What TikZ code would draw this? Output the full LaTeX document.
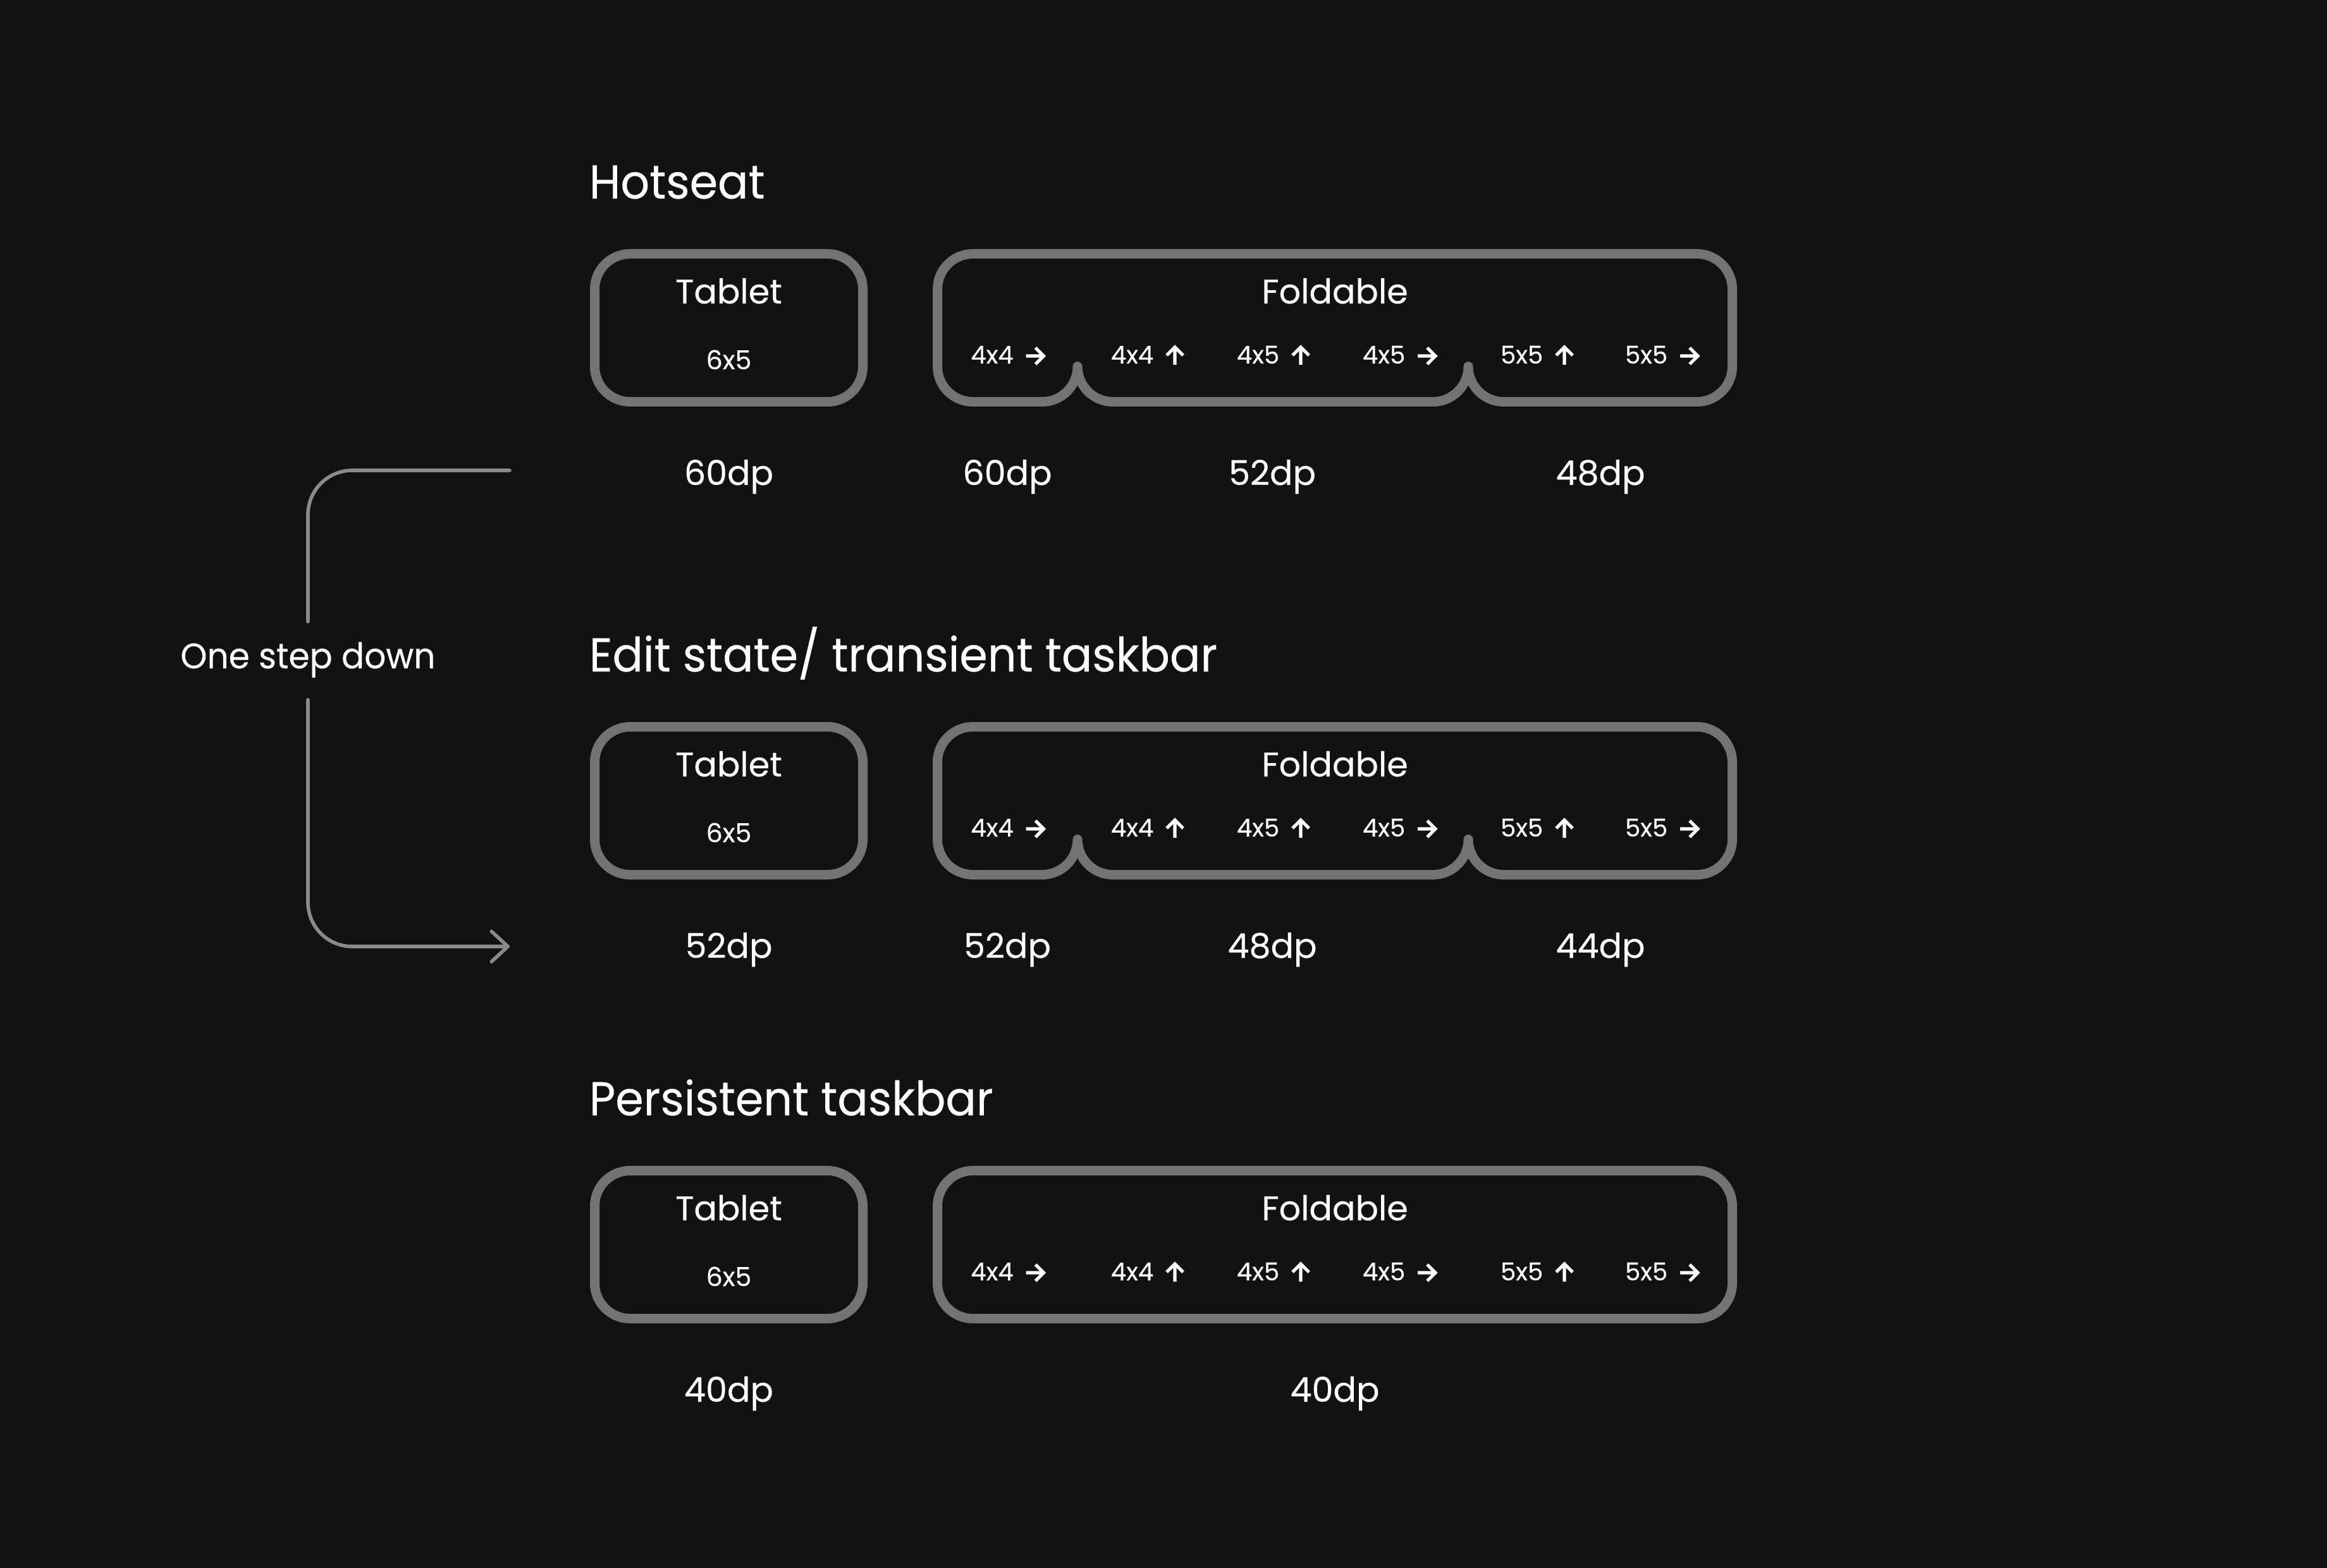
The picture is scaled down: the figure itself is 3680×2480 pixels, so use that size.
\documentclass[tikz,border=0pt]{standalone}
\usepackage{fontspec}
\setmainfont{Poppins}[FakeBold=0.3]
\newfontfamily\titlefont{Poppins}[FakeStretch=0.955, FakeBold=0.3]
\usetikzlibrary{arrows.meta}
\definecolor{bg}{HTML}{121212}
\definecolor{boxc}{HTML}{737373}
\definecolor{linec}{HTML}{8A8A8A}
\tikzset{
  tabbox/.style={draw=boxc, line width=3.75pt, rounded corners=14pt, minimum width=106pt, minimum height=58.5pt, inner sep=0pt},
  foldbox/.style={draw=boxc, line width=3.75pt, line join=round},
  title/.style={font=\titlefont\fontsize{18.75pt}{20pt}\selectfont, text=white, anchor=base west, inner sep=0pt},
  head/.style={font=\fontsize{13.5pt}{15pt}\selectfont, text=white, anchor=base, inner sep=0pt},
  subl/.style={font=\fontsize{10.3pt}{12pt}\selectfont, text=white, anchor=base, inner sep=0pt},
  itemtxt/.style={font=\fontsize{9.7pt}{11pt}\selectfont, text=white, anchor=base, inner sep=0pt},
  conn/.style={draw=linec, line width=1.4pt, line cap=round, rounded corners=17.5pt},
  arrowicon/.style={draw=white, line width=1.3pt},
  rarr/.pic={\draw[arrowicon] (-14,0)--(14,0) (1,-13)--(14,0)--(1,13);},
  uarr/.pic={\draw[arrowicon] (0,14)--(0,-14) (-13,-1)--(0,-14)--(13,-1);}
}
\newcommand\fitem[4]{\node[itemtxt] (#1) at ({#2-23.5},575) {#3}; \pic at ({#2+44},563) {#4};}
\newcommand\items[1]{%
  \fitem{#1i1}{1592.5}{4x4}{rarr}
  \fitem{#1i2}{1814}{4x4}{uarr}
  \fitem{#1i3}{2013}{4x5}{uarr}
  \fitem{#1i4}{2212}{4x5}{rarr}
  \fitem{#1i5}{2430}{5x5}{uarr}
  \fitem{#1i6}{2627}{5x5}{rarr}}
\newcommand\tablet[1]{%
  \node[tabbox] (#1tb) at (1152.5,518.5) {};
  \node[head] (#1tt) at (1152.5,480) {Tablet};
  \node[subl] (#1ts) at (1152.5,584) {6x5};
  \node[head] (#1ft) at (2111,480) {Foldable};}
\newcommand\notched{%
  \draw[foldbox] (1482.5,457.5) .. controls (1482.5,426.6) and (1507.6,401.5) .. (1538.5,401.5)
    -- (2683.5,401.5) .. controls (2714.4,401.5) and (2739.5,426.6) .. (2739.5,457.5)
    -- (2739.5,579.5) .. controls (2739.5,610.4) and (2714.4,635.5) .. (2683.5,635.5)
    -- (2378,635.5) .. controls (2347.1,635.5) and (2322,610.4) .. (2322,579.5)
    .. controls (2322,610.4) and (2296.9,635.5) .. (2266,635.5)
    -- (1760,635.5) .. controls (1729.1,635.5) and (1704,610.4) .. (1704,579.5)
    .. controls (1704,610.4) and (1678.9,635.5) .. (1648,635.5)
    -- (1538.5,635.5) .. controls (1507.6,635.5) and (1482.5,610.4) .. (1482.5,579.5)
    -- cycle;}
\begin{document}
\begin{tikzpicture}[x=0.25pt, y=-0.25pt]
\fill[bg] (0,0) rectangle (3680,2480);
\useasboundingbox (0,0) rectangle (3680,2480);

% Row 1: Hotseat
\node[title] (t1) at (931,314) {Hotseat};
\tablet{a}
\notched
\items{a}
\node[head] (ad1) at (1152.5,767) {60dp};
\node[head] (ad2) at (1593,767) {60dp};
\node[head] (ad3) at (2012,767) {52dp};
\node[head] (ad4) at (2531,767) {48dp};

% Row 2
\begin{scope}[shift={(0,748)}]
\node[title] (t2) at (931,314) {Edit state/ transient taskbar};
\tablet{b}
\notched
\items{b}
\node[head] (bd1) at (1152.5,767) {52dp};
\node[head] (bd2) at (1593,767) {52dp};
\node[head] (bd3) at (2012,767) {48dp};
\node[head] (bd4) at (2531,767) {44dp};
\end{scope}

% Row 3
\begin{scope}[shift={(0,1450)}]
\node[title] (t3) at (931,314) {Persistent taskbar};
\tablet{c}
\draw[foldbox, rounded corners=14pt] (1482.5,401.5) rectangle (2739.5,635.5);
\items{c}
\node[head] (cd1) at (1152.5,767) {40dp};
\node[head] (cd2) at (2111,767) {40dp};
\end{scope}

% One step down connector
\node[font=\titlefont\fontsize{14pt}{16pt}\selectfont, text=white, anchor=base, inner sep=0pt,
      text height=18.25pt, text depth=12.25pt] (lbl) at (487,1057) {One step down};
\coordinate (s) at (806,744);
\coordinate (e) at (806,1497);
\draw[conn] (s) -| (lbl.north);
\draw[conn, -{Straight Barb[length=6.5pt, width=12pt, line cap=round, line join=round]}] (lbl.south) |- (e);
\end{tikzpicture}
\end{document}
